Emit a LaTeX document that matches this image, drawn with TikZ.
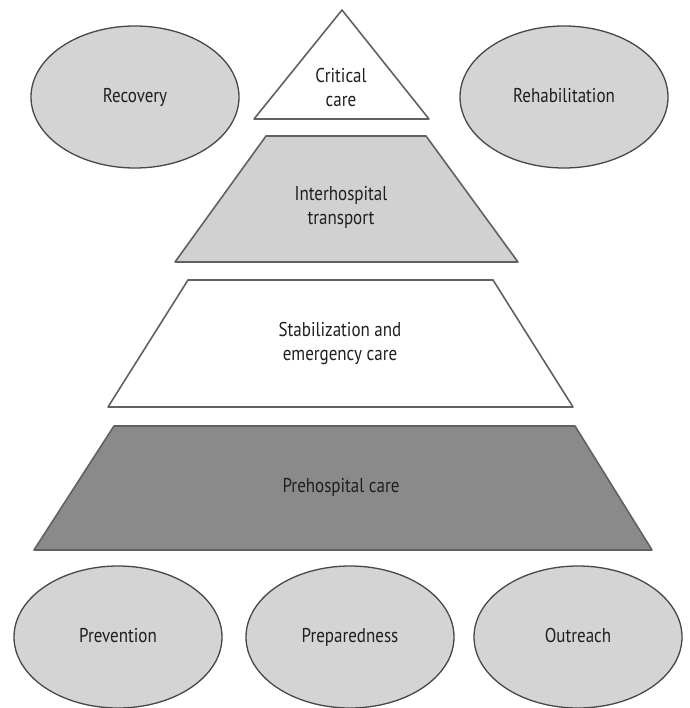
\documentclass[tikz,border=0pt]{standalone}
\usepackage{fontspec}
\setmainfont{PT Sans}[FakeStretch=0.85]
\usepackage{xcolor}
\usetikzlibrary{shapes.geometric}

\begin{document}
\begin{tikzpicture}[x=1pt,y=-1pt]
  \useasboundingbox (0,0) rectangle (689,708);
    % Define level and phase styles
    \tikzset{level/.style={draw=black!62, line width=1.6pt, line join=round}}
    \tikzset{phase/.style={ellipse, draw=black!72, line width=1.3pt, fill=black!17, minimum width=208pt, minimum height=142pt, inner sep=0pt, text height=1.2em, text depth=0.1em}}
    \tikzset{lvltext/.style={text=black!88, font=\fontsize{20}{24}\selectfont, align=center}}
    % Define the corners of the pyramid levels
    \coordinate (A) at (342,10);
    \coordinate (B) at (429,119);
    \coordinate (C) at (254,119);
    \coordinate (D1) at (266,136); \coordinate (D2) at (426,136);
    \coordinate (D3) at (518,262); \coordinate (D4) at (175,262);
    \coordinate (E1) at (188,280); \coordinate (E2) at (493,280);
    \coordinate (E3) at (573,407); \coordinate (E4) at (108,407);
    \coordinate (F1) at (114,426); \coordinate (F2) at (575,426);
    \coordinate (F3) at (652,550); \coordinate (F4) at (34,550);
    % Draw the levels
    \draw[level, fill=white] (A) -- (B) -- (C) -- cycle;
    \draw[level, fill=black!18] (D1) -- (D2) -- (D3) -- (D4) -- cycle;
    \draw[level, fill=white] (E1) -- (E2) -- (E3) -- (E4) -- cycle;
    \draw[level, fill=black!46] (F1) -- (F2) -- (F3) -- (F4) -- cycle;
    % Level texts
    \node[lvltext] (critical) at (341,88) {Critical\\care};
    \node[lvltext] (interhosp) at (341,207) {Interhospital\\transport};
    \node[lvltext] (stabil) at (340,343) {Stabilization and\\emergency care};
    \node[lvltext] (prehosp) at (341,487) {Prehospital care};
    % Phases around the pyramid
    \node[phase, lvltext] (recovery) at (135,97) {Recovery};
    \node[phase, lvltext] (rehab) at (564,97) {Rehabilitation};
    \node[phase, lvltext] (prevention) at (118,637) {Prevention};
    \node[phase, lvltext] (prepared) at (350,637) {Preparedness};
    \node[phase, lvltext] (outreach) at (578,637) {Outreach};
\end{tikzpicture}
\end{document}
